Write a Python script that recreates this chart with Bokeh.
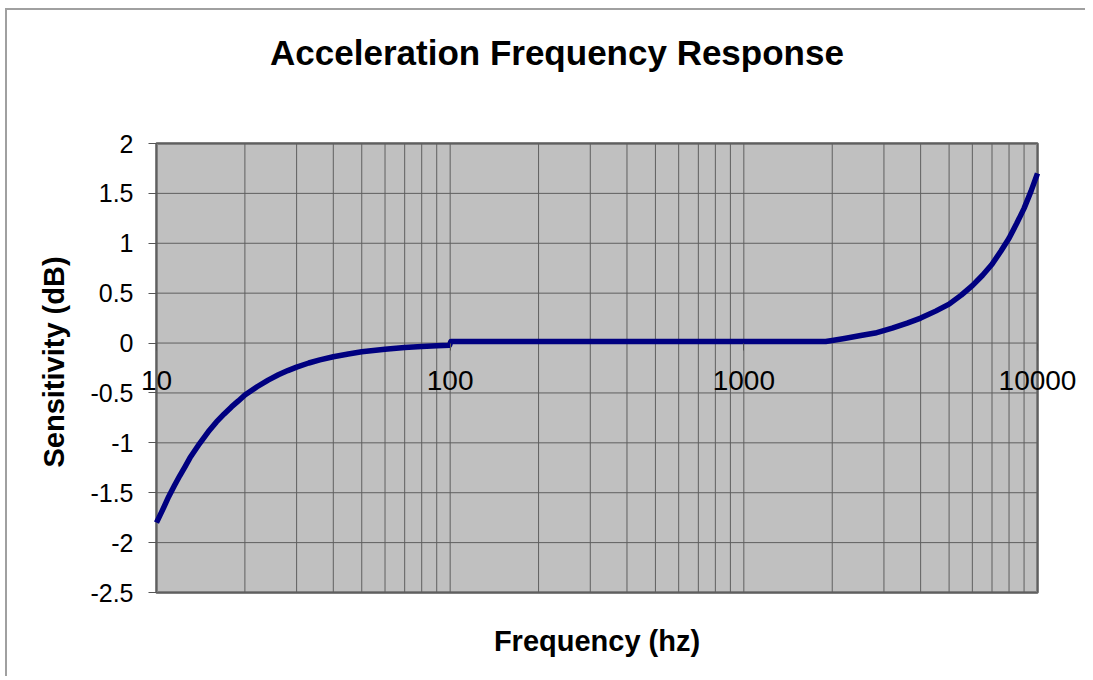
import math
from bokeh.plotting import figure
from bokeh.models import (Range1d, FixedTicker, CustomJSTickFormatter, Label,
                          BoxAnnotation)
from bokeh.embed import file_html
from bokeh.resources import INLINE

# ---- data ----
freq_hz = [10, 10.5, 11, 11.5, 12, 12.5, 13, 14, 15, 16, 17, 18, 19, 20, 22, 24,
           26, 28, 30, 33, 36, 40, 45, 50, 60, 70, 80, 90, 99.5, 100.5, 200, 500,
           1000, 1500, 1900, 2000, 2200, 2500, 2800, 3200, 3600, 4000, 4500,
           5000, 5500, 6000, 6500, 7000, 7500, 8000, 8500, 9000, 9500, 10000]
sensitivity_db = [-1.80, -1.67, -1.54, -1.43, -1.33, -1.24, -1.15, -1.01, -0.89,
                  -0.79, -0.71, -0.64, -0.58, -0.52, -0.438, -0.371, -0.318,
                  -0.276, -0.241, -0.200, -0.169, -0.137, -0.109, -0.088, -0.062,
                  -0.045, -0.035, -0.027, -0.022, 0.015, 0.015, 0.015, 0.015,
                  0.015, 0.015, 0.025, 0.045, 0.075, 0.10, 0.15, 0.20, 0.25, 0.32,
                  0.39, 0.48, 0.575, 0.68, 0.79, 0.92, 1.05, 1.20, 1.35, 1.52, 1.70]

y_ticks = [-2.5, -2, -1.5, -1, -0.5, 0, 0.5, 1, 1.5, 2]
x_tick_values = [10, 100, 1000, 10000]
x_grid_values = [10, 20, 30, 40, 50, 60, 70, 80, 90,
                 100, 200, 300, 400, 500, 600, 700, 800, 900,
                 1000, 2000, 3000, 4000, 5000, 6000, 7000, 8000, 9000, 10000]

title_text = "Acceleration Frequency Response"
x_title = "Frequency (hz)"
y_title = "Sensitivity (dB)"

FONT = "Liberation Sans"

X_MIN, X_MAX = x_grid_values[0], x_grid_values[-1]
Y_MIN, Y_MAX = y_ticks[0], y_ticks[-1]

# canvas geometry (pixels): plot area inside the canvas
W, H = 1080, 668
AREA_L, AREA_R, AREA_T, AREA_B = 149, 1030, 133, 582
px_dec = (AREA_R - AREA_L) / (math.log10(X_MAX) - math.log10(X_MIN))
px_unit = (AREA_B - AREA_T) / (Y_MAX - Y_MIN)
x_lo = 10 ** (math.log10(X_MIN) - AREA_L / px_dec)
x_hi = 10 ** (math.log10(X_MAX) + (W - AREA_R) / px_dec)
y_hi = Y_MAX + AREA_T / px_unit
y_lo = Y_MIN - (H - AREA_B) / px_unit

p = figure(width=W, height=H, x_axis_type="log",
           x_range=Range1d(x_lo, x_hi), y_range=Range1d(y_lo, y_hi),
           output_backend="svg", toolbar_location=None,
           min_border=0,
           styles={"margin-left": "5px", "margin-top": "8px",
                   "border-left": "2px solid #a0a0a0",
                   "border-top": "2px solid #a0a0a0"})

p.background_fill_color = "white"
p.border_fill_color = "white"
p.outline_line_color = None
p.grid.visible = False

# plot area
p.add_layout(BoxAnnotation(left=X_MIN, right=X_MAX, bottom=Y_MIN, top=Y_MAX,
                           fill_color="#c0c0c0", fill_alpha=1,
                           line_color="#808080", line_width=3, line_alpha=1,
                           level="underlay"))

# grid lines
p.segment(x0=x_grid_values, x1=x_grid_values,
          y0=[Y_MIN] * len(x_grid_values), y1=[Y_MAX] * len(x_grid_values),
          line_color="#5f5f5f", line_width=1)
p.segment(x0=[X_MIN] * len(y_ticks), x1=[X_MAX] * len(y_ticks),
          y0=y_ticks, y1=y_ticks, line_color="#5f5f5f", line_width=1)

# y axis at the left edge of the plot area
p.yaxis.fixed_location = X_MIN
p.yaxis.bounds = (Y_MIN, Y_MAX)
p.yaxis.ticker = FixedTicker(ticks=y_ticks)
p.yaxis.formatter = CustomJSTickFormatter(code="return tick.toString()")
p.yaxis.axis_line_color = None
p.yaxis.major_tick_line_color = "#555555"
p.yaxis.major_tick_out = 8
p.yaxis.major_tick_in = 0
p.yaxis.minor_tick_line_color = None
p.yaxis.major_label_standoff = 15
p.yaxis.major_label_text_font = FONT
p.yaxis.major_label_text_font_size = "25px"
p.yaxis.major_label_text_color = "black"

# x axis crossing at y = 0
p.xaxis.fixed_location = 0
p.xaxis.bounds = (X_MIN, X_MAX)
p.xaxis.ticker = FixedTicker(ticks=x_tick_values)
p.xaxis.formatter = CustomJSTickFormatter(code="return tick.toFixed(0)")
p.xaxis.axis_line_color = None
p.xaxis.major_tick_line_color = "#555555"
p.xaxis.major_tick_out = 7
p.xaxis.major_tick_in = 0
p.xaxis.minor_tick_line_color = None
p.xaxis.major_label_standoff = 21
p.xaxis.major_label_text_font = FONT
p.xaxis.major_label_text_font_size = "28px"
p.xaxis.major_label_text_color = "black"

# the response curve
p.line(freq_hz, sensitivity_db, line_color="#000080", line_width=5.5,
       line_join="round")

x_mid = math.sqrt(X_MIN * X_MAX)
p.add_layout(Label(x=x_mid, y=Y_MAX, x_offset=-40, y_offset=91, text=title_text,
                   text_align="center", text_baseline="middle",
                   text_font=FONT, text_font_size="35px",
                   text_font_style="bold", text_color="black"))
p.add_layout(Label(x=x_mid, y=Y_MIN, y_offset=-48, text=x_title,
                   text_align="center", text_baseline="middle",
                   text_font=FONT, text_font_size="29px",
                   text_font_style="bold", text_color="black"))
p.add_layout(Label(x=X_MIN, y=(Y_MIN + Y_MAX) / 2, x_offset=-103, y_offset=6,
                   text=y_title, angle=math.pi / 2,
                   text_align="center", text_baseline="middle",
                   text_font=FONT, text_font_size="29px",
                   text_font_style="bold", text_color="black"))

open("out.html", "w").write(file_html(p, INLINE))
